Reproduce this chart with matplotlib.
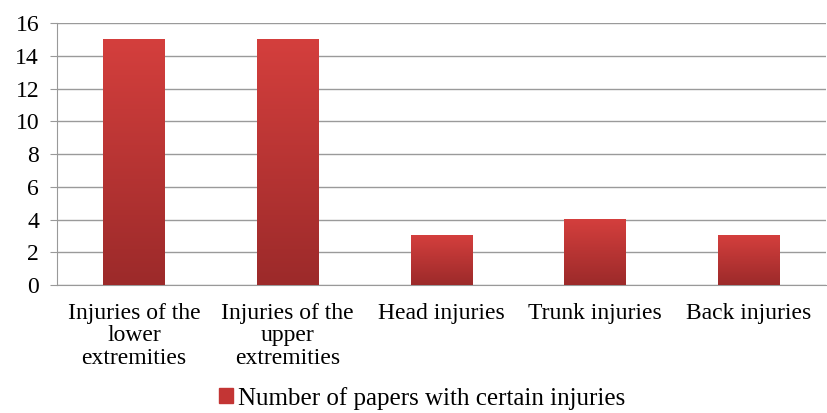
import matplotlib.pyplot as plt
import matplotlib
import numpy as np
from matplotlib.colors import LinearSegmentedColormap
from matplotlib.patches import Patch

categories = ['Injuries of the\nlower\nextremities', 'Injuries of the\nupper\nextremities',
              'Head injuries', 'Trunk injuries', 'Back injuries']
papers = [15, 15, 3, 4, 3]
series_name = 'Number of papers with certain injuries'

matplotlib.rcParams.update({'font.family': 'Liberation Serif', 'font.size': 17})

fig = plt.figure(figsize=(8.28, 4.13), dpi=100)
ax = fig.add_axes([0.069, 0.31, 0.928, 0.634])

cmap = LinearSegmentedColormap.from_list('bar', ['#9c2a2a', '#d43f3d'])
grad = np.linspace(0, 1, 256).reshape(-1, 1)
x = np.arange(len(categories))
bars = ax.bar(x, papers, width=0.4, color='none', zorder=3)
for b in bars:
    ax.imshow(grad, cmap=cmap, origin='lower', aspect='auto',
              extent=[b.get_x(), b.get_x() + b.get_width(), 0, b.get_height()], zorder=3)

ax.set_xlim(-0.5, len(categories) - 0.5)
ax.set_ylim(0, 16)
ax.set_yticks(range(0, 17, 2))
ax.set_xticks(x)
ax.set_xticklabels(categories, linespacing=1.09)
ax.tick_params(axis='x', length=0, pad=13)
ax.tick_params(axis='y', length=5, color='#999999', pad=8)
ax.yaxis.grid(True, color='#9a9a9a', linewidth=1)
ax.set_axisbelow(True)
for s in ['top', 'right']:
    ax.spines[s].set_visible(False)
ax.spines['left'].set_color('#999999')
ax.spines['bottom'].set_color('#999999')

fig.legend(handles=[Patch(color='#c33534', label=series_name)], loc='center',
           bbox_to_anchor=(0.51, 0.036), frameon=False, handlelength=0.55, handleheight=0.55,
           handletextpad=0.2, fontsize=18)

fig.savefig('out.png', dpi=100)
